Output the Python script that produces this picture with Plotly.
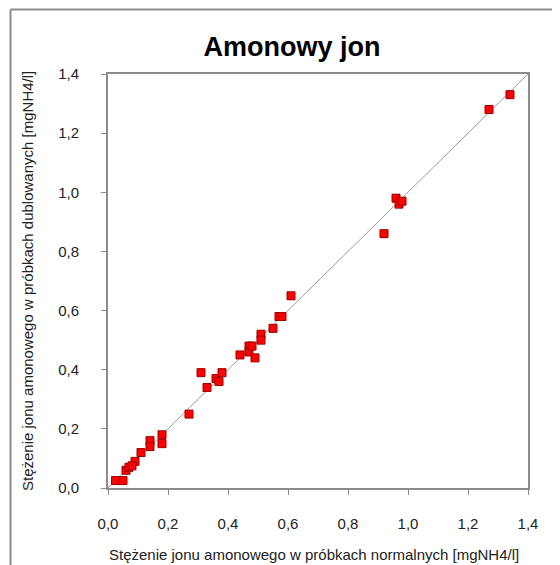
import plotly.graph_objects as go

# Data
x_normal = [0.025, 0.05, 0.06, 0.07, 0.09, 0.08, 0.11, 0.14, 0.14, 0.18, 0.18, 0.27,
            0.31, 0.33, 0.36, 0.37, 0.38, 0.44, 0.47, 0.47, 0.48, 0.49, 0.51, 0.51,
            0.55, 0.57, 0.58, 0.61, 0.92, 0.96, 0.97, 0.98, 1.27, 1.34]
y_dup = [0.025, 0.025, 0.06, 0.07, 0.09, 0.075, 0.12, 0.16, 0.14, 0.18, 0.15, 0.25,
         0.39, 0.34, 0.37, 0.36, 0.39, 0.45, 0.48, 0.46, 0.48, 0.44, 0.52, 0.50,
         0.54, 0.58, 0.58, 0.65, 0.86, 0.98, 0.96, 0.97, 1.28, 1.33]

axis_max = 1.4
tick_vals = [0.0, 0.2, 0.4, 0.6, 0.8, 1.0, 1.2, 1.4]
tick_text = ["0,0", "0,2", "0,4", "0,6", "0,8", "1,0", "1,2", "1,4"]

title_text = "Amonowy jon"
x_title = "Stężenie jonu amonowego w próbkach normalnych [mgNH4/l]"
y_title = "Stężenie jonu amonowego w próbkach dublowanych [mgNH4/l]"

FONT = "Liberation Sans, Arial, sans-serif"

# figure geometry (page has an 8px body margin)
W, H = 552, 557
L, R, T, B = 100, 32, 66, 77
PW, PH = W - L - R, H - T - B


def px_x(px):
    return (px - L) / PW


def px_y(py):
    return (H - B - py) / PH


fig = go.Figure()
fig.add_trace(go.Scatter(
    x=[0, axis_max], y=[0, axis_max], mode="lines",
    line=dict(color="#9a9a9a", width=1), hoverinfo="skip", showlegend=False))
fig.add_trace(go.Scatter(
    x=x_normal, y=y_dup, mode="markers",
    marker=dict(symbol="square", size=8, color="#ff0000",
                line=dict(color="#990000", width=1)),
    showlegend=False))

axis_common = dict(
    range=[0, axis_max], tickvals=tick_vals, ticktext=tick_text,
    showgrid=False, zeroline=False, showline=True, linecolor="#8c8c8c", linewidth=2,
    mirror=True, ticks="outside", ticklen=5, tickcolor="#8c8c8c", tickwidth=1,
    tickfont=dict(family=FONT, size=15, color="#222222"),
)

fig.update_layout(
    width=W, height=H,
    margin=dict(l=L, r=R, t=T, b=B, autoexpand=False),
    paper_bgcolor="white", plot_bgcolor="white",
    font=dict(family=FONT, color="#222222"),
    title=dict(text="<b>" + title_text + "</b>", x=284 / W, xanchor="center",
               y=1 - 39 / H, yanchor="middle",
               font=dict(family=FONT, size=27, color="#000000")),
    xaxis=dict(**axis_common, ticklabelstandoff=16, automargin=False),
    yaxis=dict(**axis_common, ticklabelstandoff=19, automargin=False),
    annotations=[
        dict(text=x_title, xref="paper", yref="paper", x=px_x(306), y=px_y(546),
             xanchor="center", yanchor="middle", showarrow=False,
             font=dict(family=FONT, size=15, color="#222222")),
        dict(text=y_title, xref="paper", yref="paper", x=px_x(19), y=px_y(273),
             xanchor="center", yanchor="middle", showarrow=False, textangle=-90,
             font=dict(family=FONT, size=15, color="#222222")),
    ],
    shapes=[
        dict(type="line", xref="paper", yref="paper",
             x0=px_x(2.5), x1=px_x(2.5), y0=px_y(1.5), y1=px_y(H + 20),
             line=dict(color="#8c8c8c", width=2)),
        dict(type="line", xref="paper", yref="paper",
             x0=px_x(2.5), x1=px_x(W + 20), y0=px_y(1.5), y1=px_y(1.5),
             line=dict(color="#8c8c8c", width=2)),
    ],
)

fig.write_html("out.html")
